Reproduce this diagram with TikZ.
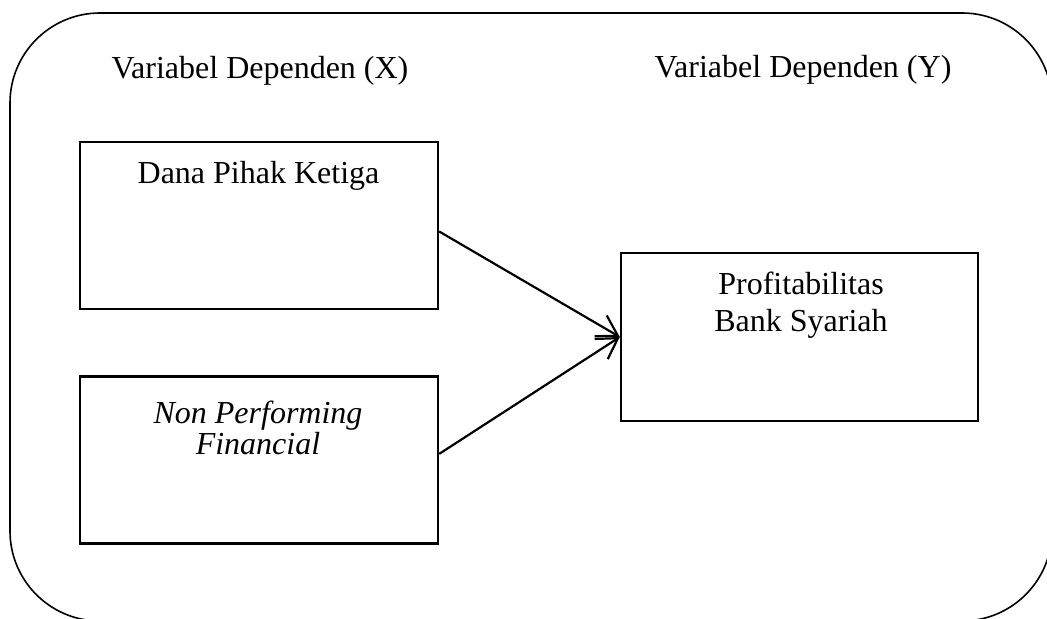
\documentclass[tikz,border=0pt]{standalone}
\usepackage{fontspec}
\setmainfont{Liberation Serif}
\usetikzlibrary{positioning, arrows.meta}

\begin{document}
\begin{tikzpicture}[x=0.5pt, y=-0.5pt,
    font=\fontsize{16}{19}\selectfont,
    box/.style={draw, line width=1.2pt, minimum width=179pt, minimum height=83.5pt, inner sep=0pt},
    boxtext/.style={inner sep=0pt, align=center},
    link/.style={line width=1.1pt, -{Straight Barb[length=10pt,width=12pt]}}]
    \useasboundingbox (0,0) rectangle (1047,619);
    \clip (0,0) rectangle (1047,619);
    \draw[line width=0.8pt, rounded corners=45pt] (10,13) rectangle (1052,621);

    \node[anchor=base] (tx) at (260,79) {Variabel Dependen (X)};
    \node[anchor=base] (ty) at (803,78) {Variabel Dependen (Y)};

    \node[box] (dpk) at (259,225.5) {};
    \node[box, below=32.5pt of dpk] (npf) {};
    \node[box, minimum width=178.5pt, minimum height=84pt] (pbs) at (799.5,337) {};

    \node[anchor=base] (dpk-t) at (258.5,184) {Dana Pihak Ketiga};
    \node[boxtext, anchor=north, font=\fontsize{16}{14.5}\selectfont\itshape] (npf-t) at (258,399) {\rule{0pt}{12pt}Non Performing\\Financial};
    \node[boxtext, anchor=north, font=\fontsize{16}{18.5}\selectfont] (pbs-t) at (801,270) {\rule{0pt}{12pt}Profitabilitas\\Bank Syariah};

    \draw[link] ([yshift=-3pt]dpk.east) -- (pbs.west);
    \draw[link] ([yshift=3pt]npf.east) -- (pbs.west);
\end{tikzpicture}
\end{document}
